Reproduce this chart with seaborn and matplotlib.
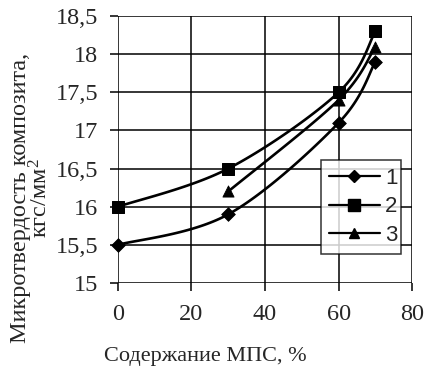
import numpy as np
import pandas as pd
import matplotlib
matplotlib.use("Agg")
import matplotlib.pyplot as plt
from matplotlib.lines import Line2D
from matplotlib.ticker import FuncFormatter
import seaborn as sns

x1 = [0, 30, 60, 70]
y1 = [15.5, 15.9, 17.1, 17.9]
x2 = [0, 30, 60, 70]
y2 = [16.0, 16.5, 17.5, 18.3]
x3 = [30, 60, 70]
y3 = [16.2, 17.4, 18.1]
labels = ["1", "2", "3"]
markers = ["D", "s", "^"]
msizes = [7, 9, 8]

sns.set_style("white")
plt.rcParams['font.family'] = ['Liberation Serif', 'DejaVu Serif']
plt.rcParams['mathtext.fontset'] = 'custom'
plt.rcParams['mathtext.rm'] = 'Liberation Serif'
plt.rcParams['mathtext.it'] = 'Liberation Serif'

fig = plt.figure(figsize=(4.24, 3.67), dpi=100)
ax = fig.add_axes([0.278, 0.229, 0.694, 0.727])

xr, yr = 80.0, 3.5
axw, axh = 294.0, 267.0

def smooth(xs, ys, n=40):
    # Excel-like smoothed line (cardinal Bezier) computed in screen-scaled space
    P = np.column_stack([np.array(xs) / xr * axw, np.array(ys) / yr * axh])
    out = []
    m = len(P)
    for i in range(m - 1):
        p0 = P[i - 1] if i > 0 else P[i]
        p1, p2 = P[i], P[i + 1]
        p3 = P[i + 2] if i + 2 < m else P[i + 1]
        c1 = p1 + (p2 - p0) / 6.0
        c2 = p2 - (p3 - p1) / 6.0
        t = np.linspace(0, 1, n)[:, None]
        seg = ((1 - t) ** 3) * p1 + 3 * ((1 - t) ** 2) * t * c1 + 3 * (1 - t) * t ** 2 * c2 + t ** 3 * p2
        out.append(seg if i == 0 else seg[1:])
    S = np.vstack(out)
    return S[:, 0] * xr / axw, S[:, 1] * yr / axh

series = [(x1, y1), (x2, y2), (x3, y3)]
handles = []
for (xs, ys), lab, mk, ms in zip(series, labels, markers, msizes):
    sx, sy = smooth(xs, ys)
    df = pd.DataFrame({"x": sx, "y": sy})
    sns.lineplot(data=df, x="x", y="y", sort=False, color="black", lw=1.9, ax=ax, estimator=None)
    sns.scatterplot(x=xs, y=ys, marker=mk, s=ms ** 2, color="black", edgecolor="black", ax=ax, zorder=5, clip_on=False)
    handles.append(Line2D([0], [0], color="black", lw=1.6, marker=mk, markersize=ms - 1))

ax.set_xlim(0, 80)
ax.set_ylim(15, 18.5)
ax.set_xticks([0, 20, 40, 60, 80])
ax.set_yticks([15, 15.5, 16, 16.5, 17, 17.5, 18, 18.5])
ax.yaxis.set_major_formatter(FuncFormatter(lambda v, p: ("%g" % v).replace(".", ",")))
ax.grid(True, color="black", lw=1.1)
for s in ax.spines.values():
    s.set_visible(False)
ax.tick_params(axis="both", which="major", length=6, width=1.1, color="black",
               direction="out", labelsize=17.5, left=True, bottom=True)
ax.tick_params(axis="y", pad=8)
ax.tick_params(axis="x", pad=9)
ax.set_xlabel("Содержание МПС, %", fontsize=16)
ax.xaxis.set_label_coords(0.296, -0.24)
ax.set_ylabel("Микротвердость композита,\nкгс/мм$^{2}$", fontsize=17.5, linespacing=0.9)
ax.yaxis.set_label_coords(-0.222, 0.318)

leg = ax.legend(handles, labels, loc="lower left", bbox_to_anchor=(0.69, 0.109, 0.273, 0.344),
                mode="expand", frameon=True, fancybox=False, edgecolor="black",
                prop={"family": "Liberation Sans", "size": 16}, handlelength=2.3,
                handletextpad=0.25, borderpad=0.35, labelspacing=0.35, borderaxespad=0)
leg.get_frame().set_linewidth(1.1)
leg.set_zorder(10)

fig.savefig("out.png", dpi=100)
